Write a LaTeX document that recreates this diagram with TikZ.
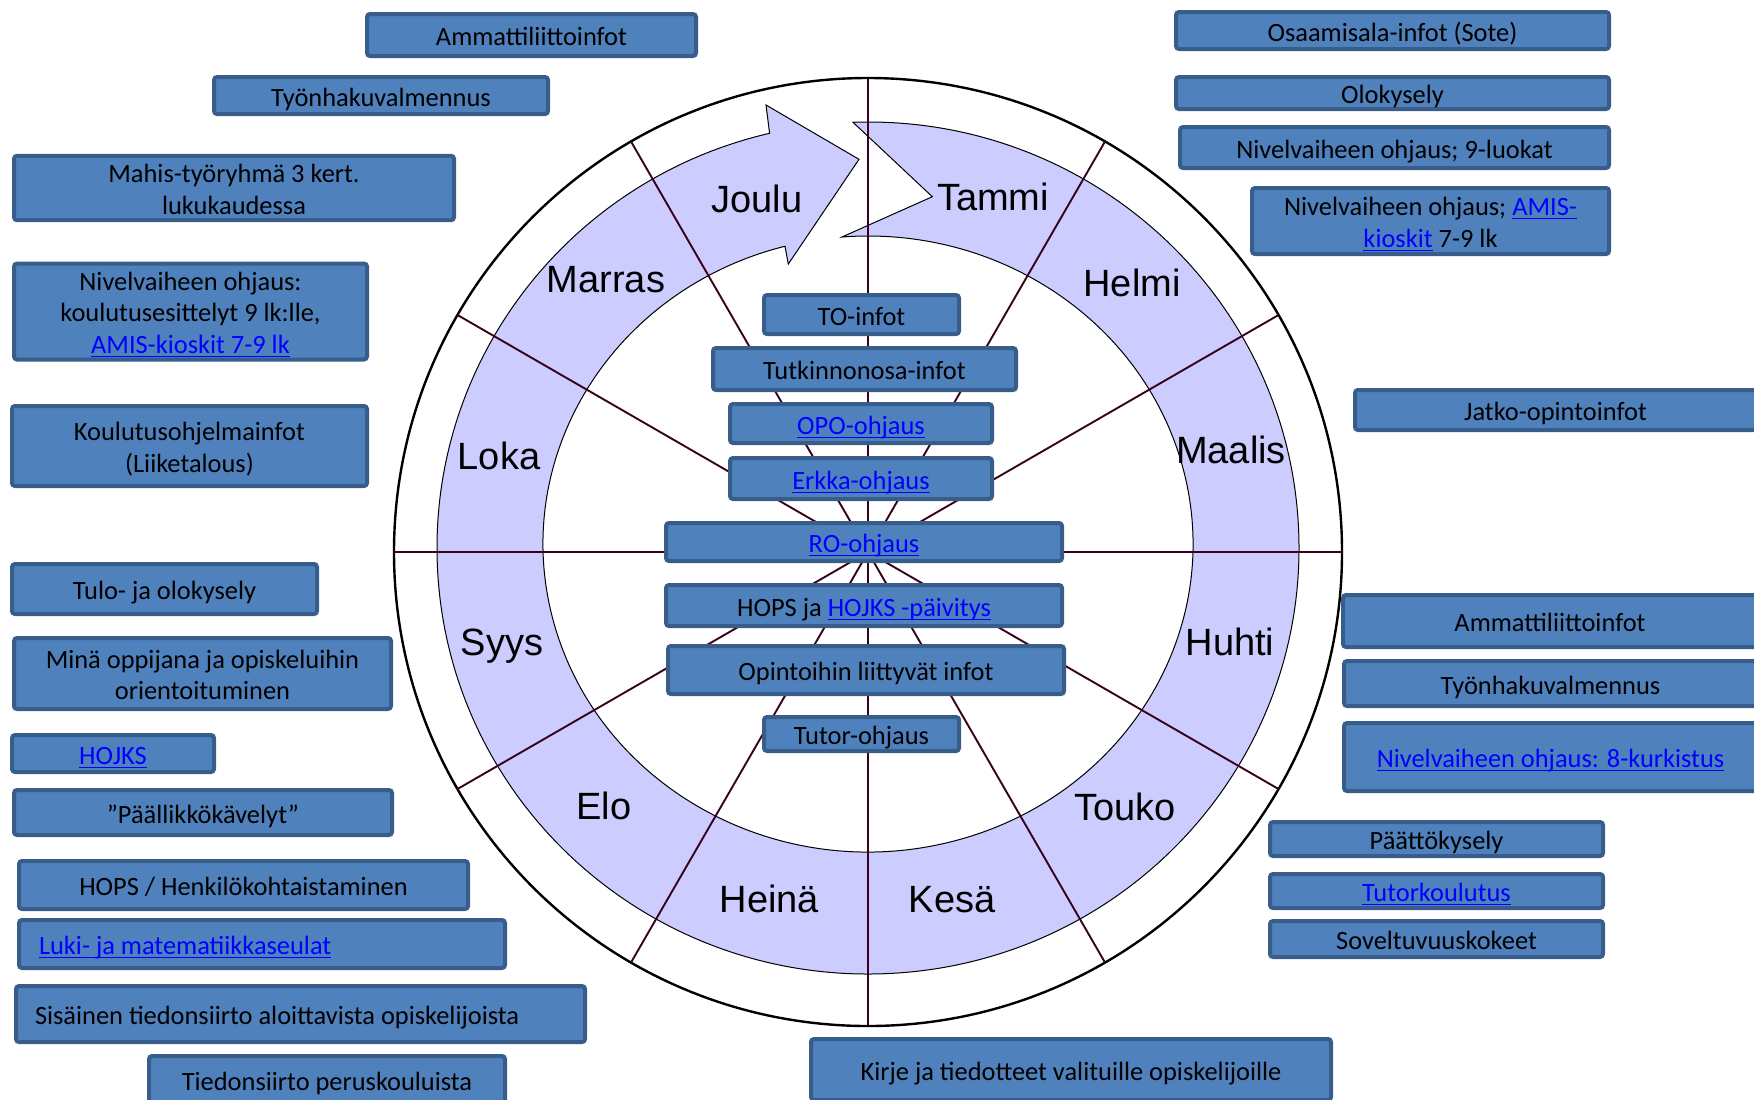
\documentclass[tikz,border=0pt]{standalone}
\usepackage{fontspec}
\setmainfont{Carlito}
\newfontfamily\arialfont{Liberation Sans}
\definecolor{boxfill}{RGB}{79,129,189}
\definecolor{boxedge}{RGB}{56,93,138}
\definecolor{bandcol}{RGB}{204,204,255}
\definecolor{radcol}{RGB}{55,0,28}
\definecolor{linkblue}{RGB}{0,0,255}
\newcommand\lnk[1]{{\color{linkblue}\setbox0=\hbox{#1}\rlap{\rule[-1.9pt]{\wd0}{0.65pt}}\box0}}
\newcommand\ftop{\rule{0pt}{13.4pt}}
\newcommand\fbot{\rule[-3pt]{0pt}{0pt}}
\newcommand\bx[7][]{\node[box,minimum width={(#5-#3-4)*0.5pt},minimum height={(#6-#4-4)*0.5pt},#1] (#2) at ({(#3+#5)/2},{(#4+#6)/2}) {#7};}
\begin{document}
\begin{tikzpicture}[x=0.5pt,y=-0.5pt,
  box/.style={draw=boxedge,fill=boxfill,line width=2pt,rounded corners=1.5pt,inner sep=0pt,
    font=\fontsize{13.2}{15.8}\selectfont,align=center,text height=10.5pt,text depth=0pt},
  multi/.style={text height={},text depth={}},
  month/.style={font=\arialfont\fontsize{19}{22}\selectfont,anchor=base,inner sep=0pt},
  radial/.style={draw=radcol,line width=0.95pt},
  band/.style={fill=bandcol,draw=black,line width=0.5pt},
  rim/.style={draw=black,line width=1.2pt}]
\useasboundingbox (0,0) rectangle (1754,1099);
\clip (0,0) rectangle (1754,1099);
\coordinate (c) at (868,552);
% circular arrow band
\filldraw[band] ([shift={(868,548)}]268:431 and 426)
  arc[start angle=268,end angle=616.8,x radius=431,y radius=426]
  -- (766,105) -- (859,159.3) -- (788.3,264)
  -- ([shift={(868,544)}]615.2:325 and 308)
  arc[start angle=615.2,end angle=265.4,x radius=325,y radius=308]
  -- (932.3,196.7) -- cycle;
% outer circle
\draw[rim] (c) circle[radius=474];
% radial lines
\foreach \a in {0,30,...,330} \draw[radial] (c) -- ++(\a:474);
% month labels
\node[month] (joulu) at (757,212) {Joulu};
\node[month] (tammi) at (993,210) {Tammi};
\node[month] (marras) at (606,292) {Marras};
\node[month] (helmi) at (1132,296) {Helmi};
\node[month] (loka) at (499,469) {Loka};
\node[month] (maalis) at (1231,463) {Maalis};
\node[month] (syys) at (502,655) {Syys};
\node[month] (huhti) at (1230,655) {Huhti};
\node[month] (elo) at (604,819) {Elo};
\node[month] (touko) at (1125,820) {Touko};
\node[month] (heina) at (769.5,912) {Heinä};
\node[month] (kesa) at (952,912) {Kesä};
% centre boxes
\bx{c1}{762}{293}{961}{336}{TO-infot}
\bx{c2}{711}{346}{1018}{392}{Tutkinnonosa-infot}
\bx{c3}{728}{402}{994}{445}{\lnk{OPO-ohjaus}}
\bx{c4}{728}{456}{994}{501}{\lnk{Erkka-ohjaus}}
\bx{c5}{664}{521}{1064}{563}{\lnk{RO-ohjaus}}
\bx{c6}{664}{583}{1064}{628}{HOPS ja \lnk{HOJKS -päivitys}}
\bx{c7}{666}{644}{1066}{696}{Opintoihin liittyvät infot}
\bx{c8}{762}{715}{961}{753}{Tutor-ohjaus}
% left boxes
\bx{l1}{365}{12}{698}{58}{Ammattiliittoinfot}
\bx{l2}{212}{75}{550}{116}{Työnhakuvalmennus}
\bx[multi]{l3}{12}{154}{456}{222}{\ftop Mahis-työryhmä 3 kert.\\lukukaudessa\fbot}
\bx[multi]{l4}{12}{262}{369}{361}{\ftop Nivelvaiheen ohjaus:\\koulutusesittelyt 9 lk:lle,\\\lnk{AMIS-kioskit 7-9 lk}\fbot}
\bx[multi]{l5}{10}{404}{369}{488}{\ftop Koulutusohjelmainfot\\(Liiketalous)\fbot}
\bx{l6}{10}{562}{319}{616}{Tulo- ja olokysely}
\bx[multi]{l7}{12}{636}{393}{711}{\ftop Minä oppijana ja opiskeluihin\\orientoituminen\fbot}
\bx{l8}{10}{733}{216}{774}{\lnk{HOJKS}}
\bx{l9}{12}{788}{394}{837}{”Päällikkökävelyt”}
\bx{l10}{17}{859}{470}{911}{HOPS / Henkilökohtaistaminen}
\bx{l11}{17}{918}{507}{970}{\makebox[243pt][l]{\hspace*{10pt}\lnk{Luki- ja matematiikkaseulat}}}
\bx{l12}{14}{984}{587}{1044}{\makebox[284.5pt][l]{\hspace*{9.5pt}Sisäinen tiedonsiirto aloittavista opiskelijoista}}
\bx{l13}{147}{1054}{507}{1105}{Tiedonsiirto peruskouluista}
% right boxes
\bx{r1}{1174}{10}{1611}{51}{Osaamisala-infot (Sote)}
\bx{r2}{1174}{75}{1611}{111}{Olokysely}
\bx{r3}{1178}{125}{1611}{170}{Nivelvaiheen ohjaus; 9-luokat}
\bx[multi]{r4}{1250}{186}{1611}{256}{\ftop Nivelvaiheen ohjaus; \lnk{AMIS-}\\\lnk{kioskit} 7-9 lk\fbot}
\bx{r5}{1353}{388}{1758}{432}{Jatko-opintoinfot}
\bx{r6}{1341}{593}{1759}{649}{Ammattiliittoinfot}
\bx{r7}{1342}{659}{1759}{708}{Työnhakuvalmennus}
\bx{r8}{1342}{721}{1759}{793}{\lnk{Nivelvaiheen ohjaus: 8-kurkistus}}
\bx{r9}{1268}{820}{1605}{858}{Päättökysely}
\bx{r10}{1268}{872}{1605}{910}{\lnk{Tutorkoulutus}}
\bx{r11}{1268}{919}{1605}{959}{Soveltuvuuskokeet}
% bottom box
\bx{b1}{809}{1037}{1333}{1102}{Kirje ja tiedotteet valituille opiskelijoille}
\end{tikzpicture}
\end{document}
